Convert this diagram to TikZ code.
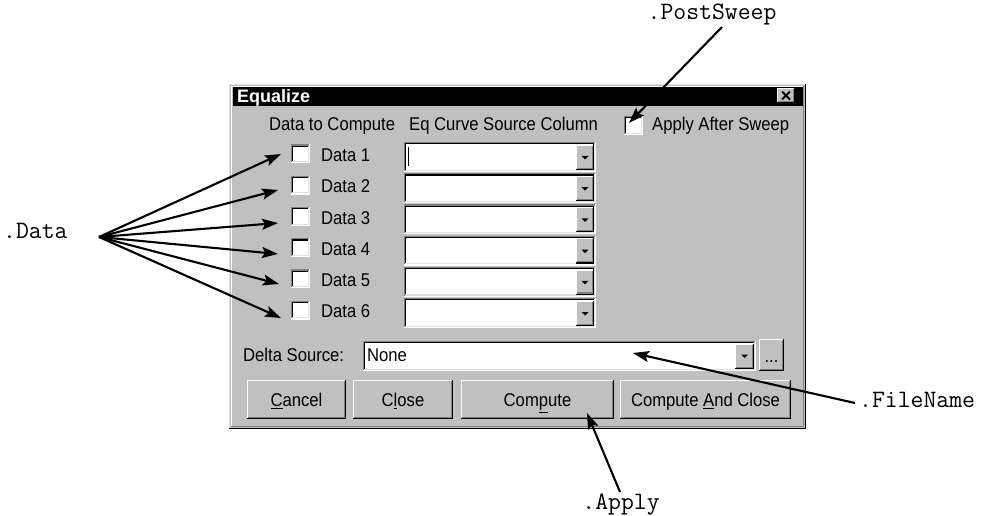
\documentclass[tikz,border=0pt]{standalone}
\usepackage{fontspec}
\setmainfont{Liberation Sans}
\newfontfamily\uifont[FakeStretch=0.9]{Liberation Sans}
\usetikzlibrary{arrows.meta}
\definecolor{winbg}{HTML}{C0C0C0}
\definecolor{dkg}{HTML}{808080}
\definecolor{ltg}{HTML}{DFDFDF}
\newcommand{\SunkenBox}[4]{%
  \fill[white] (#1,#2) rectangle (#3,#4);
  \draw[dkg,line width=1.2pt] (#1+0.6,#4) -- (#1+0.6,#2+0.6) -- (#3,#2+0.6);
  \draw[black,line width=1.2pt] (#1+1.8,#4-1.2) -- (#1+1.8,#2+1.8) -- (#3-1.2,#2+1.8);
  \draw[white,line width=1.2pt] (#1,#4-0.6) -- (#3-0.6,#4-0.6) -- (#3-0.6,#2);
  \draw[ltg,line width=1.2pt] (#1+1.2,#4-1.8) -- (#3-1.8,#4-1.8) -- (#3-1.8,#2+1.2);
}
\newcommand{\RaisedBox}[4]{%
  \fill[winbg] (#1,#2) rectangle (#3,#4);
  \draw[white,line width=1.2pt] (#1+0.6,#4) -- (#1+0.6,#2+0.6) -- (#3,#2+0.6);
  \draw[black,line width=1.2pt] (#1,#4-0.6) -- (#3-0.6,#4-0.6) -- (#3-0.6,#2);
  \draw[dkg,line width=1.2pt] (#1+1.2,#4-1.8) -- (#3-1.8,#4-1.8) -- (#3-1.8,#2+1.2);
}
\newcommand{\DownArrow}[2]{%
  \fill[black] (#1-3.5,#2-1.5) -- (#1+3.5,#2-1.5) -- (#1,#2+2) -- cycle;
}
\begin{document}
\begin{tikzpicture}[x=1pt,y=-1pt,
  ui/.style={font=\uifont\fontsize{18.5}{20}\selectfont, inner sep=0pt, anchor=mid west},
  btn/.style={font=\uifont\fontsize{18.5}{20}\selectfont, inner sep=0pt, anchor=mid},
  lbl/.style={font=\ttfamily\fontsize{25}{27}\selectfont, inner sep=0pt},
  arr/.style={line width=2.1pt, -{Stealth[length=16pt,width=11pt,inset=3pt]}},
  ]
\useasboundingbox (0,0) rectangle (986,516);
\fill[white] (0,0) rectangle (986,516);

% dialog frame
\fill[winbg] (229,84) rectangle (806,429);
\draw[ltg,line width=1.2pt] (229.6,428.4) -- (229.6,84.6) -- (805.4,84.6);
\draw[white,line width=1.2pt] (231.4,427) -- (231.4,86.4) -- (804,86.4);
\draw[black,line width=1.2pt] (229,428.4) -- (805.4,428.4) -- (805.4,84);
\draw[dkg,line width=1.2pt] (231,426.6) -- (803.6,426.6) -- (803.6,86);

% title bar
\fill[black] (233,87) rectangle (803,106);
\node[font=\bfseries\fontsize{18}{20}\selectfont, text=white, inner sep=0pt, anchor=mid west] (title) at (237,100) {Equalize};
\RaisedBox{777}{88}{795}{103}
\draw[black,line width=2pt] (782,91.5) -- (790,99.5) (790,91.5) -- (782,99.5);

% headers
\node[ui] (hdata) at (269,128) {Data to Compute};
\node[ui] (hcurve) at (409,128) {Eq Curve Source Column};
\SunkenBox{624}{116}{643}{135}
\node[ui] (happly) at (652,128) {Apply After Sweep};
\coordinate (applybox) at (629,123);

% rows
\foreach \i in {1,...,6} {
  \pgfmathsetmacro{\c}{154+31.2*(\i-1)}
  \SunkenBox{291}{\c-9.5}{310}{\c+9.5}
  \node[ui] (data\i) at (321,\c+5) {Data \i};
  \SunkenBox{404}{\c-12}{596}{\c+18}
  \RaisedBox{576}{\c-9.5}{594}{\c+16}
  \DownArrow{585}{\c+3.5}
}
\draw[black,line width=1pt] (408,147) -- (408,166);

% delta source
\node[ui] (delta) at (243,359) {Delta Source:};
\SunkenBox{363}{341}{756}{371}
\node[ui] (none) at (367,359) {None};
\RaisedBox{735}{343.5}{754}{369}
\DownArrow{744.5}{356}
\RaisedBox{759}{339}{784}{371}
\node[btn] (dots) at (771.5,360) {...};

% buttons
\RaisedBox{247}{380}{346}{419}
\node[btn] (cancel) at (296.5,404) {\underline{C}ancel};
\RaisedBox{353}{380}{453}{419}
\node[btn] (close) at (403,404) {C\underline{l}ose};
\RaisedBox{461}{380}{614}{419}
\node[btn] (compute) at (537.5,404) {Com\underline{p}ute};
\RaisedBox{620}{380}{791}{419}
\node[btn] (cac) at (705.5,404) {Compute \underline{A}nd Close};

% annotation labels
\node[lbl, anchor=mid] (lpost) at (712,17) {.PostSweep};
\node[lbl, anchor=mid west] (ldata) at (3,236) {.Data};
\node[lbl, anchor=mid west] (lfile) at (859,405) {.FileName};
\node[lbl, anchor=mid] (lapply) at (621,507) {.Apply};

\coordinate (postsrc) at (722,27);
\coordinate (dsrc) at (99,237);
\coordinate (filesrc) at (855,403);
\coordinate (applysrc) at (620,492);
\coordinate (filetip) at (633,353);
\coordinate (applytip) at (587,413);
\coordinate (t1) at (281,154);
\coordinate (t2) at (278,190);
\coordinate (t3) at (278,223);
\coordinate (t4) at (278,254);
\coordinate (t5) at (279,284);
\coordinate (t6) at (281,318);

\draw[arr] (postsrc) -- (applybox);
\foreach \k in {1,...,6} { \draw[arr] (dsrc) -- (t\k); }
\draw[arr] (filesrc) -- (filetip);
\draw[arr] (applysrc) -- (applytip);
\end{tikzpicture}
\end{document}
